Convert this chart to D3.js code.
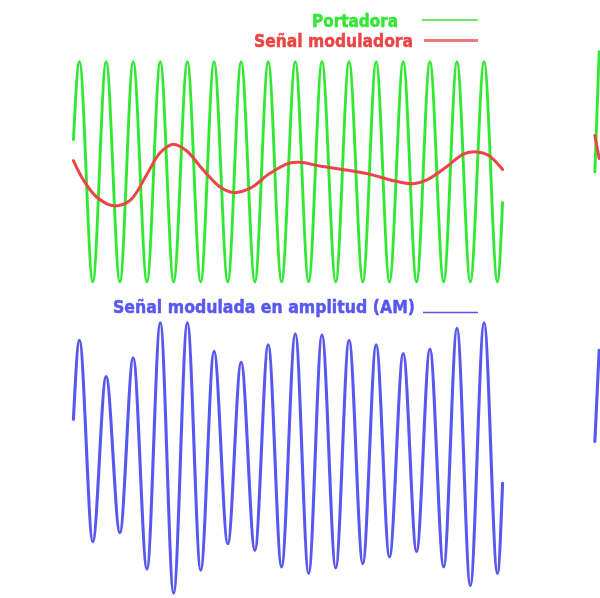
<!DOCTYPE html>
<html>
<head>
<meta charset="utf-8">
<script src="https://cdn.jsdelivr.net/npm/d3@7"></script>
<style>
  html, body { margin: 0; padding: 0; background: #fff; }
  svg { display: block; }
  text { font-family: "DejaVu Sans", sans-serif; font-weight: bold; }
</style>
</head>
<body>
<svg id="chart" width="600" height="598"></svg>
<script>
// ---- Data ----
// time axis runs 0..10; amplitudes in signal units
const carrierT = [0.01, 0.15, 0.46, 0.77, 1.09, 1.40, 1.72, 2.03, 2.34, 2.66, 2.97, 3.28, 3.60, 3.91, 4.23, 4.54, 4.85,
                  5.17, 5.48, 5.79, 6.11, 6.42, 6.74, 7.05, 7.36, 7.68, 7.99, 8.30, 8.62, 8.93, 9.24, 9.56, 9.87, 9.99];
const carrierV = [0.29, 1, -1, 1, -1, 1, -1, 1, -1, 1, -1, 1, -1, 1, -1, 1, -1,
                  1, -1, 1, -1, 1, -1, 1, -1, 1, -1, 1, -1, 1, -1, 1, -1, -0.28];

const modT = [0.01, 0.24, 0.55, 0.94, 1.33, 1.71, 2.02, 2.33, 2.64, 3.03, 3.42, 3.73, 4.12, 4.58, 5.01, 5.28,
              5.74, 6.36, 6.91, 7.45, 7.91, 8.23, 8.69, 9.08, 9.39, 9.66, 9.99];
const modV = [0.10, -0.075, -0.23, -0.31, -0.26, -0.03, 0.17, 0.25, 0.19, 0.015, -0.14, -0.19, -0.15, -0.015, 0.076, 0.085,
              0.052, 0.015, -0.024, -0.082, -0.11, -0.075, 0.045, 0.16, 0.18, 0.15, 0.02];

const amT = carrierT;
const amV = [0.35, 1.07, -0.76, 0.74, -0.68, 0.91, -1.01, 1.23, -1.23, 1.23, -1.02, 0.97, -0.78, 0.87, -0.84, 1.03, -0.99,
             1.13, -1.05, 1.12, -1.00, 1.07, -0.96, 1.03, -0.90, 0.95, -0.85, 0.99, -0.99, 1.18, -1.16, 1.23, -1.05, -0.23];

// start of the neighbouring chart, cut off at the right edge
const nextT = [0.02, 0.12];
const nextCarrierV = [0.0, 1.09];
const nextModV = [0.33, 0.12];
const nextAmV = [0.15, 0.98];

const legendTop = ["Portadora", "Señal moduladora"];
const legendBottom = ["Señal modulada en amplitud (AM)"];

// ---- Drawing ----
const svg = d3.select("#chart");
svg.append("rect").attr("width", 600).attr("height", 598).attr("fill", "#fff");

const defs = svg.append("defs");
defs.append("filter").attr("id", "soft").append("feGaussianBlur").attr("stdDeviation", 0.6);
defs.append("clipPath").attr("id", "clip").append("rect").attr("width", 600).attr("height", 598);

const GREEN = "#33e833", RED = "#ec4444", BLUE = "#5858f0";

const x = d3.scaleLinear().domain([0, 10]).range([73, 503]);
const xNext = d3.scaleLinear().domain([0, 10]).range([594, 1024]);
const yTop = d3.scaleLinear().domain([-1, 1]).range([281.7, 61.7]);
const yBot = d3.scaleLinear().domain([-1, 1]).range([568, 348]);

const zip = (t, v) => t.map((d, i) => [d, v[i]]);

function draw(g, xs, ys, t, v, color, width, curve) {
  const line = d3.line().x(d => xs(d[0])).y(d => ys(d[1])).curve(curve);
  g.append("path").datum(zip(t, v))
    .attr("d", line).attr("fill", "none")
    .attr("stroke", color).attr("stroke-width", width)
    .attr("stroke-linejoin", "round").attr("stroke-linecap", "round");
}

const plot = svg.append("g").attr("clip-path", "url(#clip)").attr("filter", "url(#soft)");

draw(plot, x, yTop, carrierT, carrierV, GREEN, 2.9, d3.curveMonotoneX);
draw(plot, x, yTop, modT, modV, RED, 3, d3.curveCatmullRom.alpha(0.5));
draw(plot, x, yBot, amT, amV, BLUE, 3.1, d3.curveMonotoneX);

draw(plot, xNext, yTop, nextT, nextCarrierV, GREEN, 2.9, d3.curveLinear);
draw(plot, xNext, yTop, nextT, nextModV, RED, 3, d3.curveLinear);
draw(plot, xNext, yBot, nextT, nextAmV, BLUE, 3.1, d3.curveLinear);

// ---- Legends ----
const leg = svg.append("g").attr("filter", "url(#soft)");
const legendItems = [
  { label: legendTop[0], color: GREEN, tx: 398, ty: 27, len: 86, lx1: 422, lx2: 478, ly: 20, lc: GREEN, lw: 1.6 },
  { label: legendTop[1], color: RED, tx: 413, ty: 47, len: 159, lx1: 424, lx2: 478, ly: 40.5, lc: "#f07878", lw: 3 },
  { label: legendBottom[0], color: BLUE, tx: 415, ty: 313, len: 302, lx1: 423, lx2: 478, ly: 312.5, lc: BLUE, lw: 1.6 }
];
legendItems.forEach(d => {
  leg.append("text").text(d.label)
    .attr("x", d.tx).attr("y", d.ty)
    .attr("text-anchor", "end")
    .attr("font-size", 17.5)
    .attr("fill", d.color)
    .attr("stroke", d.color).attr("stroke-width", 0.5)
    .attr("textLength", d.len).attr("lengthAdjust", "spacingAndGlyphs");
  leg.append("line")
    .attr("x1", d.lx1).attr("x2", d.lx2).attr("y1", d.ly).attr("y2", d.ly)
    .attr("stroke", d.lc).attr("stroke-width", d.lw);
});
</script>
</body>
</html>
